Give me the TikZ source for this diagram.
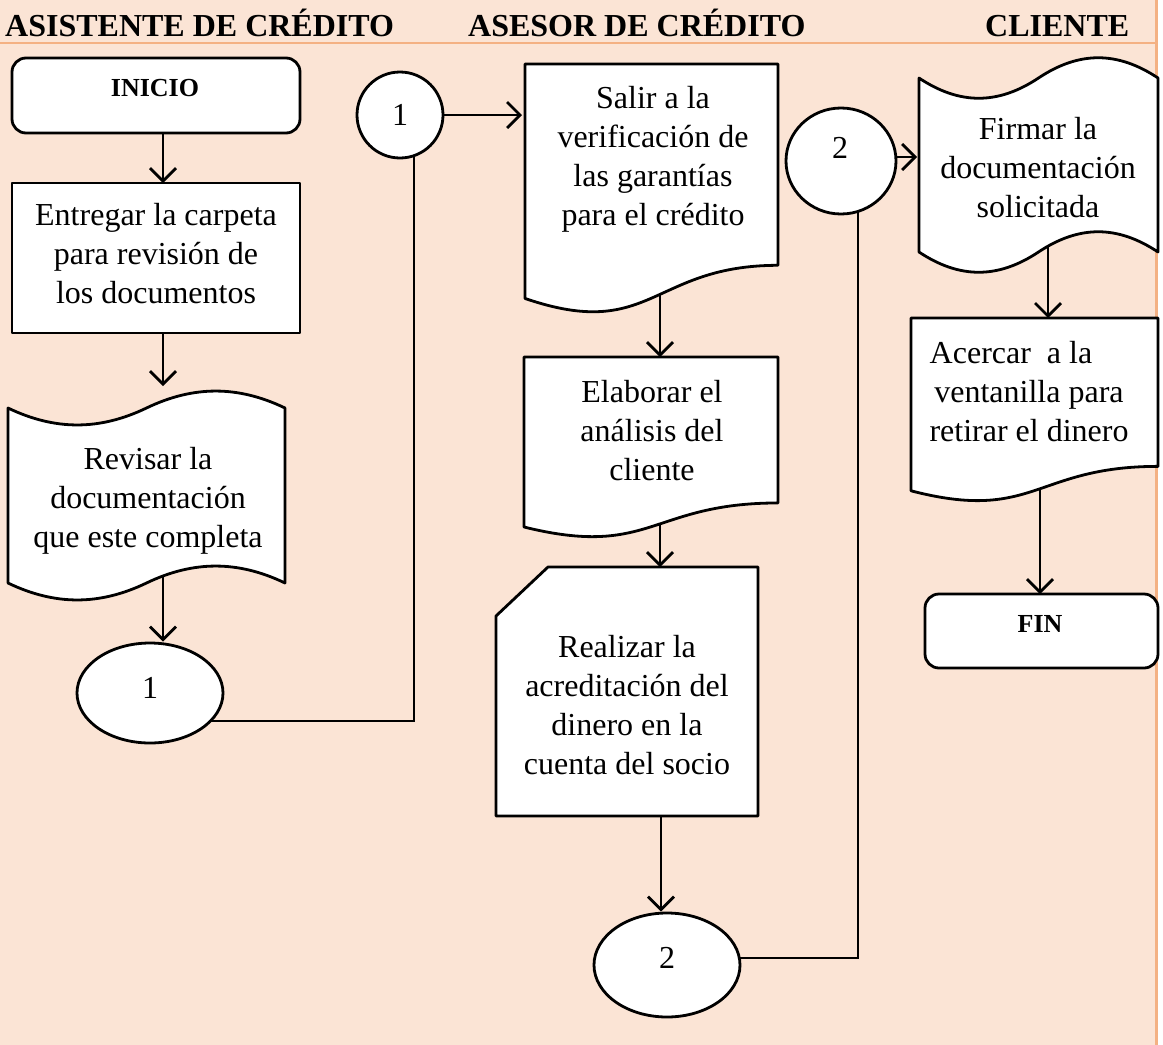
\documentclass[tikz,border=0pt]{standalone}
\usepackage{fontspec}
\setmainfont{Liberation Serif}
\usetikzlibrary{arrows.meta,shapes.geometric,calc}
\pgfdeclarelayer{back}
\pgfdeclarelayer{mid}
\pgfsetlayers{back,mid,main}
\definecolor{peach}{HTML}{FBE4D5}
\definecolor{lineor}{HTML}{F4B183}
\tikzset{
  shp/.style={draw=black, line width=2.8pt, fill=white, line join=round},
  box/.style={draw=none, inner sep=0pt, outer sep=0pt, rectangle, anchor=north west},
  txt/.style={align=center, font=\fontsize{32}{39}\selectfont, inner sep=0pt},
  termtxt/.style={font=\bfseries\fontsize{26}{30}\selectfont, inner sep=0pt},
  hdr/.style={font=\bfseries\fontsize{32}{38}\selectfont, anchor=base west, inner sep=0pt},
  arr/.style={line width=2.8pt, -{Straight Barb[length=13pt,width=26pt]}},
  conn/.style={line width=1.3pt},
  term/.style={shp, rectangle, rounded corners=14pt, inner sep=0pt, outer sep=0pt, anchor=north west},
  rectbox/.style={shp, rectangle, inner sep=0pt, outer sep=0pt, anchor=north west},
}
\newcommand\docat[1]{\draw[shp] (#1.north west) -- (#1.north east) -- ($(#1.north east)!0.802!(#1.south east)$) .. controls ($(#1.north)!0.802!(#1.south)$) and ($(#1.north)!1.107!(#1.south)$) .. ($(#1.north west)!0.934!(#1.south west)$) -- cycle;}
\newcommand\tapeat[2]{\draw[shp] (#1.north west) .. controls ($(#1.north west)!0.17!(#1.north east)+(0,#2)$) and ($(#1.north west)!0.33!(#1.north east)+(0,#2)$) .. (#1.north) .. controls ($(#1.north west)!0.67!(#1.north east)+(0,-#2)$) and ($(#1.north west)!0.83!(#1.north east)+(0,-#2)$) .. (#1.north east) -- (#1.south east) .. controls ($(#1.south west)!0.83!(#1.south east)+(0,-#2)$) and ($(#1.south west)!0.67!(#1.south east)+(0,-#2)$) .. (#1.south) .. controls ($(#1.south west)!0.33!(#1.south east)+(0,#2)$) and ($(#1.south west)!0.17!(#1.south east)+(0,#2)$) .. (#1.south west) -- cycle;}
\begin{document}
\begin{tikzpicture}[x=1pt,y=-1pt]
\useasboundingbox (0,0) rectangle (1163,1045);
\begin{pgfonlayer}{back}
  \fill[peach] (0,0) rectangle (1156,1045);
  \draw[lineor, line width=2pt] (0,43) -- (1156,43);
  \draw[lineor, line width=3pt] (1156.5,0) -- (1156.5,1045);
\end{pgfonlayer}

% headers
\node[hdr] (h1) at (5,36) {ASISTENTE DE CRÉDITO};
\node[hdr] (h2) at (468,36) {ASESOR DE CRÉDITO};
\node[hdr] (h3) at (985,36) {CLIENTE};

% shape frames
\node[term, minimum width=288pt, minimum height=75pt] (inicio) at (12,58) {};
\node[rectbox, minimum width=288pt, minimum height=150pt] (entregar) at (12,183) {};
\node[box, minimum width=277pt, minimum height=175pt] (revisar) at (8,408) {};
\node[shp, ellipse, minimum width=146pt, minimum height=100pt, inner sep=0pt] (e1) at (150,693) {};
\node[shp, circle, minimum size=86pt, inner sep=0pt] (c1) at (400,115) {};
\node[box, minimum width=253pt, minimum height=251pt] (salir) at (525,64) {};
\node[box, minimum width=254pt, minimum height=182pt] (elaborar) at (524,357) {};
\node[box, minimum width=262pt, minimum height=249pt] (realizar) at (496,567) {};
\node[shp, ellipse, minimum width=146pt, minimum height=104pt, inner sep=0pt] (e2) at (667,965) {};
\node[shp, ellipse, minimum width=110pt, minimum height=106pt, inner sep=0pt] (c2) at (841,161) {};
\node[box, minimum width=239pt, minimum height=174pt] (firmar) at (919,78) {};
\node[box, minimum width=247pt, minimum height=185pt] (acercar) at (911,318) {};
\node[term, minimum width=233pt, minimum height=74pt] (fin) at (925,594) {};

\tapeat{revisar}{22.6}
\docat{salir}
\docat{elaborar}
\draw[shp] ($(realizar.north west)+(0,49)$) -- ($(realizar.north west)+(52,0)$) -- (realizar.north east) -- (realizar.south east) -- (realizar.south west) -- cycle;
\tapeat{firmar}{27}
\docat{acercar}

% connectors (behind shapes)
\coordinate (xa) at (163,0);
\coordinate (xb) at (660,0);
\coordinate (xc) at (661,0);
\coordinate (xd) at (1048,0);
\coordinate (xe) at (1040,0);
\coordinate (k1) at (414,721);
\coordinate (k2) at (858,958);
\coordinate (revtop) at (163,386);
\begin{pgfonlayer}{mid}
  \draw[arr] (inicio.south -| xa) -- (entregar.north -| xa);
  \draw[arr] (entregar.south -| xa) -- (revtop);
  \draw[arr] (revisar.center -| xa) -- (e1.north -| xa);
  \draw[conn] (e1.center |- k1) -- (k1) -- (k1 |- c1.center);
  \draw[arr, shorten >=3pt] (c1.east) -- (c1.east -| salir.west);
  \draw[arr] (salir.center -| xb) -- (elaborar.north -| xb);
  \draw[arr] (elaborar.center -| xb) -- (realizar.north -| xb);
  \draw[arr] (realizar.center -| xc) -- (e2.north -| xc);
  \draw[conn] (e2.center |- k2) -- (k2) -- (k2 |- c2.center);
  \draw[arr] ($(c2.east)+(0,-4)$) -- ($(c2.east -| firmar.west)+(-2,-4)$);
  \draw[arr] (firmar.center -| xd) -- (acercar.north -| xd);
  \draw[arr] (acercar.center -| xe) -- (fin.north -| xe);
\end{pgfonlayer}

% texts
\node[termtxt] (inicioT) at (155,88) {INICIO};
\node[txt] (entregarT) at (156,254) {Entregar la carpeta\\para revisión de\\los documentos};
\node[txt] (revisarT) at (148,501) {Revisar la\\documentación\\que este completa};
\node[txt] (e1T) at (150,688) {1};
\node[txt] (c1T) at (400,115) {1};
\node[txt] (salirT) at (653,159) {Salir a la\\verificación de\\las garantías\\para el crédito};
\node[txt] (elaborarT) at (652,431) {Elaborar el\\análisis del\\cliente};
\node[txt] (realizarT) at (627,705) {Realizar la\\acreditación del\\dinero en la\\cuenta del socio};
\node[txt] (e2T) at (667,958) {2};
\node[txt] (c2T) at (840,148) {2};
\node[txt] (firmarT) at (1038,168) {Firmar la\\documentación\\solicitada};
\node[txt] (acercarT) at (1029,392) {Acercar\ \ a la\hspace*{36pt}\\ventanilla para\\retirar el dinero};
\node[termtxt] (finT) at (1040,624) {FIN};
\end{tikzpicture}
\end{document}
